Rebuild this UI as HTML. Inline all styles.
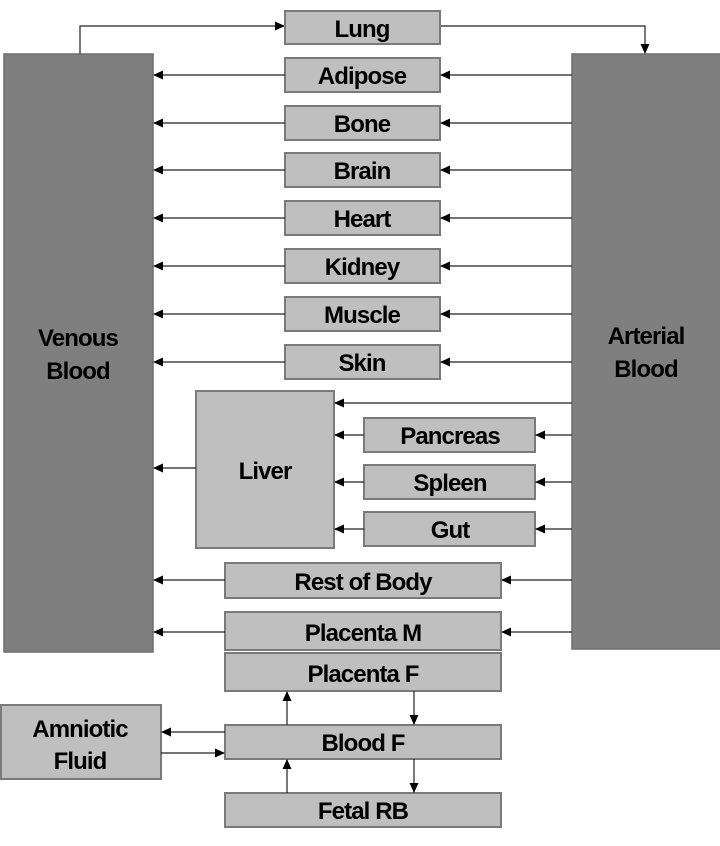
<!DOCTYPE html>
<html><head><meta charset="utf-8"><style>
html,body{margin:0;padding:0;background:#fff;}
svg{display:block;}
text{font-family:"Liberation Sans",sans-serif;font-weight:bold;font-size:24px;fill:#000;text-anchor:middle;letter-spacing:-0.9px;}
.b{fill:#bfbfbf;stroke:#7a7a7a;stroke-width:2;}
.d{fill:#7f7f7f;stroke:#6f6f6f;stroke-width:1.5;}
.l{stroke:#222;stroke-width:1.2;fill:none;}
</style></head><body>
<svg width="720" height="846" viewBox="0 0 720 846" xmlns="http://www.w3.org/2000/svg">
<defs><marker id="a" markerWidth="10" markerHeight="10" refX="9" refY="5" orient="auto" markerUnits="userSpaceOnUse"><path d="M0,0.5 L10,5 L0,9.5 Z" fill="#000"/></marker></defs>
<rect class="d" x="4" y="54" width="149" height="598"/>
<rect class="d" x="572" y="54" width="150" height="595"/>
<text x="78" y="346">Venous</text><text x="78" y="379">Blood</text>
<text x="646" y="344">Arterial</text><text x="646" y="377">Blood</text>
<polyline class="l" points="80,54 80,26 284,26" marker-end="url(#a)"/>
<polyline class="l" points="441,26 645,26 645,53" marker-end="url(#a)"/>
<rect class="b" x="285" y="11" width="155" height="33"/><text x="362" y="37">Lung</text>
<g>
<rect class="b" x="285" y="58" width="155" height="34"/><text x="362" y="84">Adipose</text>
<rect class="b" x="285" y="106" width="155" height="34"/><text x="362" y="132">Bone</text>
<rect class="b" x="285" y="153" width="155" height="34"/><text x="362" y="179">Brain</text>
<rect class="b" x="285" y="201" width="155" height="34"/><text x="362" y="227">Heart</text>
<rect class="b" x="285" y="249" width="155" height="34"/><text x="362" y="275">Kidney</text>
<rect class="b" x="285" y="297" width="155" height="34"/><text x="362" y="323">Muscle</text>
<rect class="b" x="285" y="345" width="155" height="34"/><text x="362" y="371">Skin</text>
</g>
<g>
<line class="l" x1="285" y1="75" x2="154" y2="75" marker-end="url(#a)"/><line class="l" x1="572" y1="75" x2="441" y2="75" marker-end="url(#a)"/>
<line class="l" x1="285" y1="123" x2="154" y2="123" marker-end="url(#a)"/><line class="l" x1="572" y1="123" x2="441" y2="123" marker-end="url(#a)"/>
<line class="l" x1="285" y1="170" x2="154" y2="170" marker-end="url(#a)"/><line class="l" x1="572" y1="170" x2="441" y2="170" marker-end="url(#a)"/>
<line class="l" x1="285" y1="218" x2="154" y2="218" marker-end="url(#a)"/><line class="l" x1="572" y1="218" x2="441" y2="218" marker-end="url(#a)"/>
<line class="l" x1="285" y1="266" x2="154" y2="266" marker-end="url(#a)"/><line class="l" x1="572" y1="266" x2="441" y2="266" marker-end="url(#a)"/>
<line class="l" x1="285" y1="314" x2="154" y2="314" marker-end="url(#a)"/><line class="l" x1="572" y1="314" x2="441" y2="314" marker-end="url(#a)"/>
<line class="l" x1="285" y1="362" x2="154" y2="362" marker-end="url(#a)"/><line class="l" x1="572" y1="362" x2="441" y2="362" marker-end="url(#a)"/>
</g>
<rect class="b" x="196" y="391" width="138" height="157"/><text x="265" y="479">Liver</text>
<line class="l" x1="572" y1="403" x2="335" y2="403" marker-end="url(#a)"/>
<line class="l" x1="196" y1="468" x2="154" y2="468" marker-end="url(#a)"/>
<rect class="b" x="364" y="418" width="171" height="34"/><text x="450" y="444">Pancreas</text>
<rect class="b" x="364" y="465" width="171" height="34"/><text x="450" y="491">Spleen</text>
<rect class="b" x="364" y="512" width="171" height="34"/><text x="450" y="538">Gut</text>
<line class="l" x1="572" y1="435" x2="536" y2="435" marker-end="url(#a)"/><line class="l" x1="364" y1="435" x2="335" y2="435" marker-end="url(#a)"/>
<line class="l" x1="572" y1="482" x2="536" y2="482" marker-end="url(#a)"/><line class="l" x1="364" y1="482" x2="335" y2="482" marker-end="url(#a)"/>
<line class="l" x1="572" y1="529" x2="536" y2="529" marker-end="url(#a)"/><line class="l" x1="364" y1="529" x2="335" y2="529" marker-end="url(#a)"/>
<rect class="b" x="225" y="563" width="276" height="35"/><text x="363" y="590">Rest of Body</text>
<line class="l" x1="572" y1="580" x2="502" y2="580" marker-end="url(#a)"/><line class="l" x1="225" y1="580" x2="154" y2="580" marker-end="url(#a)"/>
<rect class="b" x="225" y="612" width="276" height="38"/><text x="363" y="641">Placenta M</text>
<line class="l" x1="572" y1="632" x2="502" y2="632" marker-end="url(#a)"/><line class="l" x1="225" y1="632" x2="154" y2="632" marker-end="url(#a)"/>
<rect class="b" x="225" y="653" width="276" height="38"/><text x="363" y="682">Placenta F</text>
<rect class="b" x="225" y="725" width="276" height="34"/><text x="363" y="751">Blood F</text>
<rect class="b" x="225" y="793" width="276" height="34"/><text x="363" y="819">Fetal RB</text>
<line class="l" x1="287" y1="725" x2="287" y2="692" marker-end="url(#a)"/>
<line class="l" x1="414" y1="691" x2="414" y2="724" marker-end="url(#a)"/>
<line class="l" x1="287" y1="793" x2="287" y2="760" marker-end="url(#a)"/>
<line class="l" x1="414" y1="759" x2="414" y2="792" marker-end="url(#a)"/>
<rect class="b" x="1" y="705" width="160" height="74"/><text x="80" y="737">Amniotic</text><text x="80" y="769">Fluid</text>
<line class="l" x1="225" y1="732" x2="162" y2="732" marker-end="url(#a)"/>
<line class="l" x1="161" y1="753" x2="224" y2="753" marker-end="url(#a)"/>
</svg>
</body></html>
